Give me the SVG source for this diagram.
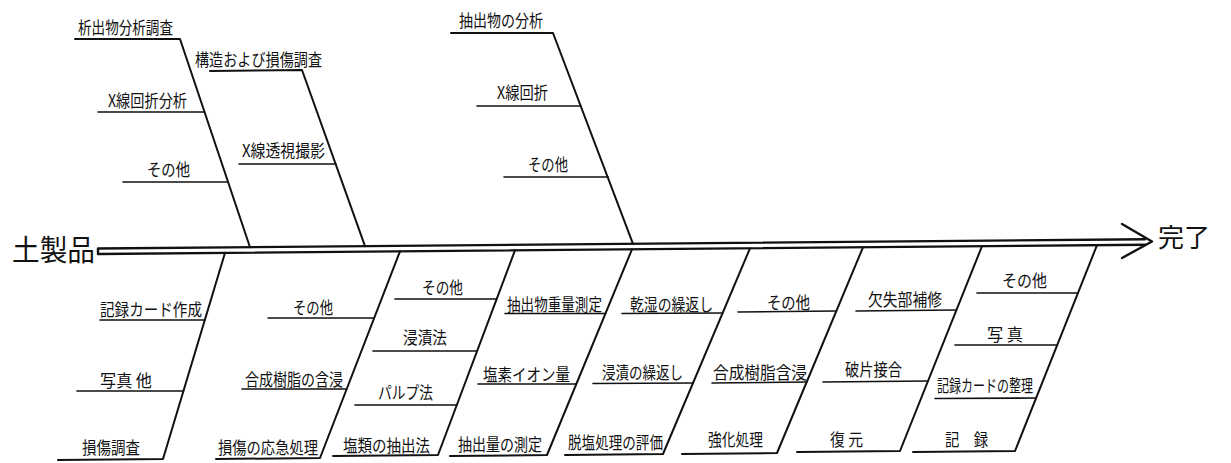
<svg xmlns="http://www.w3.org/2000/svg" width="1231" height="463" viewBox="0 0 1231 463">
<style>
.t{font-family:"Noto Sans CJK JP","Noto Sans CJK SC",sans-serif;font-size:17px;fill:#111;}
.big{font-size:29px;}
.ln{stroke:#111;fill:none;stroke-width:1.6;stroke-linecap:round;stroke-linejoin:round;}
.main{stroke-width:2;}
.spine{stroke-width:2.4;}
</style>
<rect width="1231" height="463" fill="#fff"/>
<g id="connectors">
  <!-- spine -->
  <path class="ln spine" d="M1145,239.2 L98,248.5 L98,254 L1145,244.7"/>
  <path class="ln spine" d="M1122,224 L1152,241.5 L1122,258"/>
  <!-- top branch A -->
  <path class="ln main" d="M75,39 L180,39 L250,247.2"/>
  <path class="ln" d="M98,112 L204.6,112"/>
  <path class="ln" d="M123,182 L228.1,182"/>
  <!-- top branch B -->
  <path class="ln main" d="M210,71 L302,70 L365,246.2"/>
  <path class="ln" d="M239,164 L335.8,164"/>
  <!-- top branch C -->
  <path class="ln main" d="M451,33 L553,33 L633,243.8"/>
  <path class="ln" d="M477,106 L580.9,106"/>
  <path class="ln" d="M504,177 L608.1,177"/>
  <!-- bottom branch 1 -->
  <path class="ln main" d="M225,252.9 L163,459 L58,460"/>
  <path class="ln" d="M100,320 L204.8,320"/>
  <path class="ln" d="M77,391 L183.5,391"/>
  <!-- bottom branch 2 -->
  <path class="ln main" d="M400,251.3 L320,458 L216,459"/>
  <path class="ln" d="M268,318 L374.2,318"/>
  <path class="ln" d="M242,389 L346.7,389"/>
  <!-- bottom branch 3 -->
  <path class="ln main" d="M515,250.3 L438,455 L333,456"/>
  <path class="ln" d="M395,299 L496.7,299"/>
  <path class="ln" d="M373,351 L477.1,351"/>
  <path class="ln" d="M355,405 L456.8,405"/>
  <!-- bottom branch 4 -->
  <path class="ln main" d="M632,249.3 L547,455 L450,456"/>
  <path class="ln" d="M505,313.5 L605.5,313.5"/>
  <path class="ln" d="M478,384 L576.3,384"/>
  <!-- bottom branch 5 -->
  <path class="ln main" d="M750,248.3 L663,454 L565,455"/>
  <path class="ln" d="M622,313.5 L722.6,313"/>
  <path class="ln" d="M593,383.5 L693,383"/>
  <!-- bottom branch 6 -->
  <path class="ln main" d="M863,247.3 L777,453 L682,454"/>
  <path class="ln" d="M738,312 L836.4,311"/>
  <path class="ln" d="M712,383 L806.7,382"/>
  <!-- bottom branch 7 -->
  <path class="ln main" d="M982,246.2 L900,451 L797,452"/>
  <path class="ln" d="M856,311 L956.3,310"/>
  <path class="ln" d="M823,382 L928,381"/>
  <!-- bottom branch 8 -->
  <path class="ln main" d="M1097,245.2 L1015,451 L913,452"/>
  <path class="ln" d="M977,293 L1078,293"/>
  <path class="ln" d="M955,345 L1057.2,345"/>
  <path class="ln" d="M935,398.5 L1036,398"/>
</g>
<g id="start"><text class="t big" x="12" y="261" textLength="83" lengthAdjust="spacingAndGlyphs">土製品</text></g>
<g id="end"><text class="t big" x="1158" y="247" font-size="26" style="font-size:26px" textLength="52" lengthAdjust="spacingAndGlyphs">完了</text></g>
<g id="top-a">
  <text class="t" x="78" y="33.5" textLength="95" lengthAdjust="spacingAndGlyphs">析出物分析調査</text>
  <text class="t" x="108" y="106.5" textLength="79" lengthAdjust="spacingAndGlyphs">X線回折分析</text>
  <text class="t" x="147" y="175.5" textLength="43" lengthAdjust="spacingAndGlyphs">その他</text>
</g>
<g id="top-b">
  <text class="t" x="195" y="65.5" textLength="127" lengthAdjust="spacingAndGlyphs">構造および損傷調査</text>
  <text class="t" x="242" y="156.5" textLength="83" lengthAdjust="spacingAndGlyphs">X線透視撮影</text>
</g>
<g id="top-c">
  <text class="t" x="459" y="26.5" textLength="84" lengthAdjust="spacingAndGlyphs">抽出物の分析</text>
  <text class="t" x="497" y="98.5" textLength="51" lengthAdjust="spacingAndGlyphs">X線回折</text>
  <text class="t" x="528" y="170.5" textLength="40" lengthAdjust="spacingAndGlyphs">その他</text>
</g>
<g id="bottom-1">
  <text class="t" x="100" y="315.5" textLength="102" lengthAdjust="spacingAndGlyphs">記録カード作成</text>
  <text class="t" x="100" y="386.5" textLength="52" lengthAdjust="spacingAndGlyphs">写真 他</text>
  <text class="t" x="82" y="453.5" textLength="58" lengthAdjust="spacingAndGlyphs">損傷調査</text>
</g>
<g id="bottom-2">
  <text class="t" x="293" y="313.5" textLength="40" lengthAdjust="spacingAndGlyphs">その他</text>
  <text class="t" x="245" y="385.5" textLength="98" lengthAdjust="spacingAndGlyphs">合成樹脂の含浸</text>
  <text class="t" x="218" y="453.5" textLength="100" lengthAdjust="spacingAndGlyphs">損傷の応急処理</text>
</g>
<g id="bottom-3">
  <text class="t" x="422" y="293.5" textLength="41" lengthAdjust="spacingAndGlyphs">その他</text>
  <text class="t" x="403" y="343.5" textLength="44" lengthAdjust="spacingAndGlyphs">浸漬法</text>
  <text class="t" x="378" y="398.5" textLength="55" lengthAdjust="spacingAndGlyphs">パルプ法</text>
  <text class="t" x="343" y="451.5" textLength="87" lengthAdjust="spacingAndGlyphs">塩類の抽出法</text>
</g>
<g id="bottom-4">
  <text class="t" x="507" y="310.5" textLength="95" lengthAdjust="spacingAndGlyphs">抽出物重量測定</text>
  <text class="t" x="483" y="380.5" textLength="87" lengthAdjust="spacingAndGlyphs">塩素イオン量</text>
  <text class="t" x="458" y="450.5" textLength="84" lengthAdjust="spacingAndGlyphs">抽出量の測定</text>
</g>
<g id="bottom-5">
  <text class="t" x="630" y="310.5" textLength="83" lengthAdjust="spacingAndGlyphs">乾湿の繰返し</text>
  <text class="t" x="602" y="378.5" textLength="81" lengthAdjust="spacingAndGlyphs">浸漬の繰返し</text>
  <text class="t" x="568" y="448.5" textLength="95" lengthAdjust="spacingAndGlyphs">脱塩処理の評価</text>
</g>
<g id="bottom-6">
  <text class="t" x="767" y="308.5" textLength="43" lengthAdjust="spacingAndGlyphs">その他</text>
  <text class="t" x="713" y="378.5" textLength="94" lengthAdjust="spacingAndGlyphs">合成樹脂含浸</text>
  <text class="t" x="708" y="445.5" textLength="55" lengthAdjust="spacingAndGlyphs">強化処理</text>
</g>
<g id="bottom-7">
  <text class="t" x="868" y="305.5" textLength="74" lengthAdjust="spacingAndGlyphs">欠失部補修</text>
  <text class="t" x="845" y="375.5" textLength="57" lengthAdjust="spacingAndGlyphs">破片接合</text>
  <text class="t" x="830" y="445.5" textLength="33" lengthAdjust="spacingAndGlyphs">復 元</text>
</g>
<g id="bottom-8">
  <text class="t" x="1002" y="286.5" textLength="45" lengthAdjust="spacingAndGlyphs">その他</text>
  <text class="t" x="987" y="340.5" textLength="36" lengthAdjust="spacingAndGlyphs">写 真</text>
  <text class="t" x="937" y="391.5" textLength="96" lengthAdjust="spacingAndGlyphs">記録カードの整理</text>
  <text class="t" x="945" y="445.5" textLength="43" lengthAdjust="spacingAndGlyphs">記　録</text>
</g>
</svg>
